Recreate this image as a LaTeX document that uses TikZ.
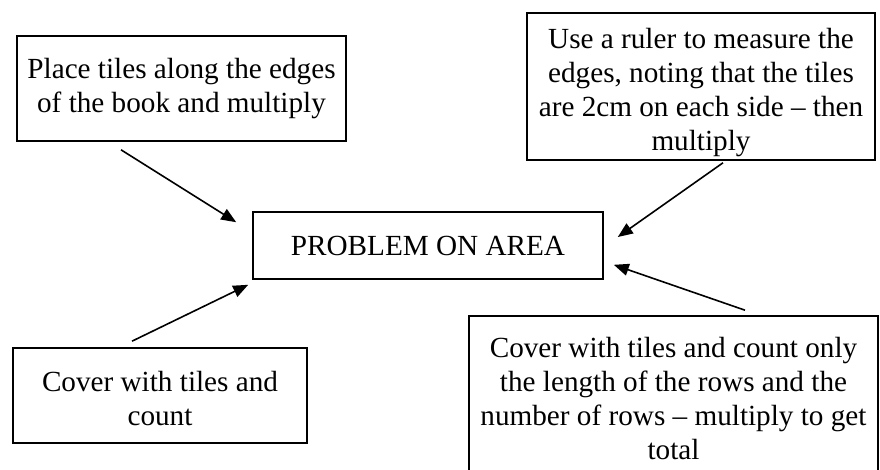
\documentclass[tikz,border=0pt]{standalone}
\usepackage{fontspec}
\setmainfont{Liberation Serif}
\usetikzlibrary{arrows.meta}
\usetikzlibrary{calc}
\tikzset {
  % box holding one way of solving
  idea/.style = {
    draw = black,
    line width = 0.8pt,
    rectangle,
    align = center,
    inner sep = 0,
    font = \fontsize{14.6}{17}\selectfont
  },
  % connector pointing to the problem
  arr/.style = {
    draw = black,
    line width = 0.8pt,
    -{Triangle[length = 7.5pt, width = 6pt]}
  }
}

\begin{document}
\begin{tikzpicture}[x = 0.5pt, y = -0.5pt]
    \useasboundingbox (0,0) rectangle (880,470);

    \node[idea, minimum width = 175pt, minimum height = 33.5pt] (area)
    at (428,245.5) {PROBLEM ON AREA};
    \node[idea, minimum width = 164.5pt, minimum height = 52.5pt] (edges)
    at (181.5,88.5) {Place tiles along the edges\\of the book and multiply};
    \node[idea, minimum width = 174pt, minimum height = 73.5pt] (ruler)
    at (701,86.5) {\rule{0pt}{16pt}Use a ruler to measure the\\edges, noting that the tiles\\are 2cm on each side -- then\\multiply};
    \node[idea, minimum width = 147pt, minimum height = 47.5pt] (count)
    at (160,395.5) {\rule{0pt}{13pt}Cover with tiles and\\count};
    \node[idea, minimum width = 204.5pt, minimum height = 78pt] (rows)
    at (673.5,394) {\rule{0pt}{14.5pt}Cover with tiles and count only\\the length of the rows and the\\number of rows -- multiply to get\\total};

    \draw[arr] ($(edges.south) + (-60.5,8)$) -- ($(area.north west) + (-16,11)$);
    \draw[arr] ($(ruler.south) + (22,2)$) -- ($(area.east) + (14,-8.5)$);
    \draw[arr] ($(count.north) + (-28,-6)$) -- ($(area.south west) + (-4,5)$);
    \draw[arr] ($(rows.north) + (71.5,-5)$) -- ($(area.south east) + (10,-15)$);
\end{tikzpicture}
\end{document}
